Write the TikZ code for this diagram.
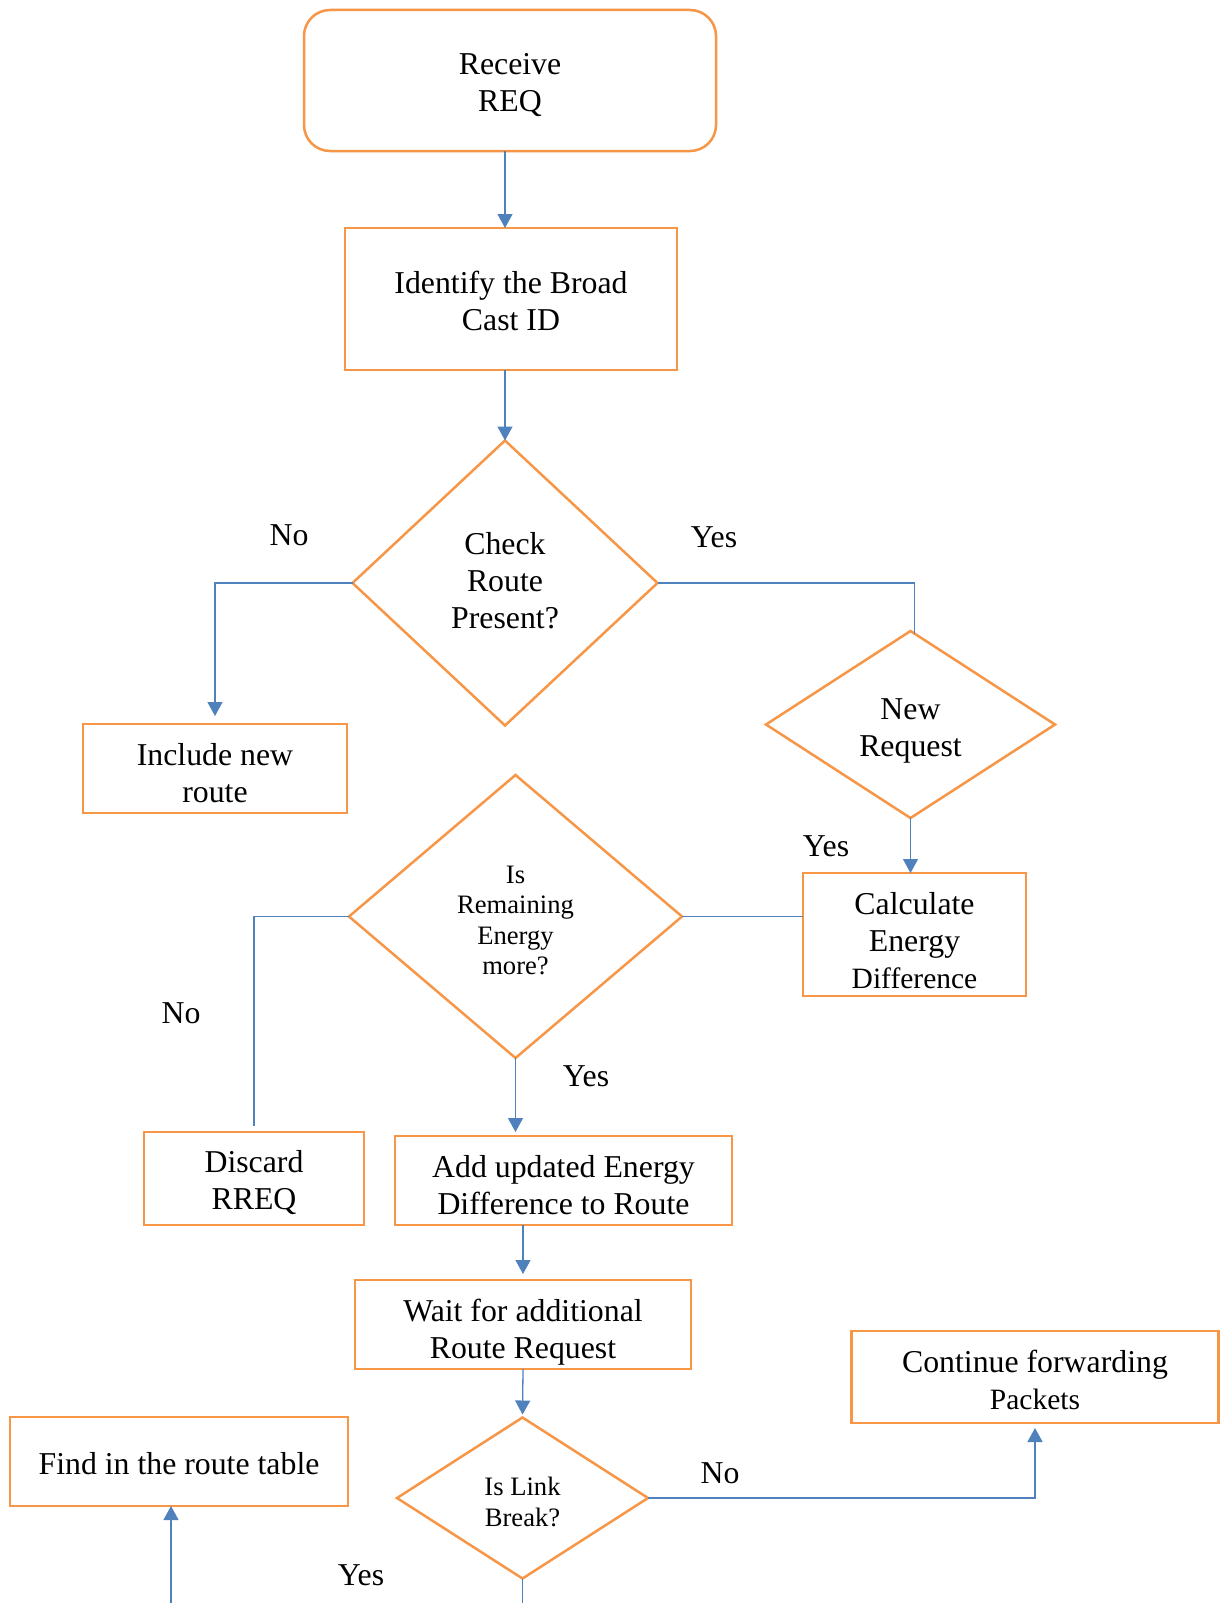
\documentclass[tikz,border=0pt]{standalone}
\usepackage{fontspec}
\setmainfont{Liberation Serif}
\usetikzlibrary{shapes.geometric,arrows.meta,calc}
\definecolor{boxorange}{RGB}{247,150,70}
\definecolor{flowblue}{RGB}{79,129,189}
\begin{document}
\begin{tikzpicture}[x=1pt,y=-1pt,
  txt/.style={font=\fontsize{31.8}{37}\selectfont, align=center},
  smalltxt/.style={font=\fontsize{26.6}{30.5}\selectfont, align=center},
  % box outline with its text set a little below the centre
  inner/.style 2 args={label={[#1, inner sep=0pt, yshift=-#2]center:{##1}}},
  procbox/.style={draw=boxorange, line width=2.5pt, rectangle, inner sep=0pt, outer sep=0pt},
  decision/.style={draw=boxorange, line width=2.5pt, diamond, inner sep=0pt, outer sep=0pt},
  link/.style={draw=flowblue, line width=1.3pt},
  arr/.style={link, -{Triangle[length=14pt,width=15pt]}},
  lbl/.style={txt, inner sep=0pt}]
\useasboundingbox[fill=white] (0,0) rectangle (1221,1603);

% process boxes
\node[procbox, rounded corners=26pt, minimum width=412pt, minimum height=141pt,
  label={[txt, inner sep=0pt, yshift=-5pt]center:{Receive\\REQ}}] (recv) at (510,80.5) {};
\node[procbox, minimum width=332pt, minimum height=142pt,
  label={[txt, inner sep=0pt, yshift=-2pt]center:{Identify the Broad\\Cast ID}}] (ident) at (511,299) {};
\node[procbox, minimum width=264pt, minimum height=89pt,
  label={[txt, inner sep=0pt, yshift=-5pt]center:{Include new\\route}}] (incl) at (215,768.5) {};
\node[procbox, minimum width=223pt, minimum height=123pt,
  label={[txt, inner sep=0pt, yshift=-6pt]center:{Calculate\\Energy\\\fontsize{29.5}{34}\selectfont Difference}}] (calc) at (914.5,934.5) {};
\node[procbox, minimum width=220pt, minimum height=93pt,
  label={[txt, inner sep=0pt, yshift=-4pt]center:{Discard\\RREQ}}] (disc) at (254,1178.5) {};
\node[procbox, minimum width=337pt, minimum height=89pt,
  label={[txt, inner sep=0pt, yshift=-5pt]center:{Add updated Energy\\Difference to Route}}] (addu) at (563.5,1180.5) {};
\node[procbox, minimum width=336pt, minimum height=89pt,
  label={[txt, inner sep=0pt, yshift=-8pt]center:{Wait for additional\\Route Request}}] (wait) at (523,1324.5) {};
\node[procbox, minimum width=367pt, minimum height=92pt,
  label={[txt, inner sep=0pt, yshift=-3pt]center:{Continue forwarding\\\fontsize{29.5}{34}\selectfont Packets}}] (cont) at (1035,1377) {};
\node[procbox, minimum width=338pt, minimum height=89pt,
  label={[txt, inner sep=0pt, yshift=-2pt]center:{Find in the route table}}] (find) at (179,1461.5) {};

% decisions
\node[decision, minimum width=305pt, minimum height=285pt,
  label={[txt, inner sep=0pt, yshift=2pt]center:{Check\\Route\\Present?}}] (chk) at (505,583) {};
\node[decision, minimum width=289pt, minimum height=187pt,
  label={[txt, inner sep=0pt, yshift=-6pt]center:{New\\Request}}] (newreq) at (910.5,724.5) {};
\node[decision, minimum width=333pt, minimum height=283pt,
  label={[smalltxt, inner sep=0pt, yshift=-4pt]center:{Is\\Remaining\\Energy\\more?}}] (remen) at (515.5,916.5) {};
\node[decision, minimum width=251pt, minimum height=161pt,
  label={[smalltxt, inner sep=0pt, yshift=-4pt]center:{Is Link\\Break?}}] (brk) at (522.5,1498) {};

% branch labels
\node[lbl] (l1) at (289,535) {No};
\node[lbl] (l2) at (714,537) {Yes};
\node[lbl] (l3) at (826,846) {Yes};
\node[lbl] (l4) at (181,1013) {No};
\node[lbl] (l5) at (586,1076) {Yes};
\node[lbl] (l6) at (720,1473) {No};
\node[lbl] (l7) at (361,1575) {Yes};

% loose ends at the lower edge
\coordinate (brkout) at (522.5,1603);
\coordinate (findin) at (171,1603);
\coordinate (yesdrop) at ($(newreq.north)+(4,3)$);

% connectors
\draw[arr] (recv.south -| chk.north) -- (ident.north -| chk.north);
\draw[arr] (ident.south -| chk.north) -- (chk.north);
\draw[arr, shorten >=8pt] (chk.west) -| (incl.north);
\draw[link] (chk.east) -| (yesdrop);
\draw[arr] (newreq.south) -- (newreq.south |- calc.north);
\draw[link] (remen.east) -- (remen.east -| calc.west);
\draw[link, shorten >=6pt] (remen.west) -| (disc.north);
\draw[arr, shorten >=4pt] (remen.south) -- (remen.south |- addu.north);
\draw[arr, shorten >=6pt] (wait.north |- addu.south) -- (wait.north);
\draw[arr, shorten >=3pt] (wait.south) -- (brk.north);
\draw[arr, shorten >=5pt] (brk.east) -| (cont.south);
\draw[link] (brk.south) -- (brkout);
\draw[arr] (findin) -- (findin |- find.south);
\end{tikzpicture}
\end{document}
